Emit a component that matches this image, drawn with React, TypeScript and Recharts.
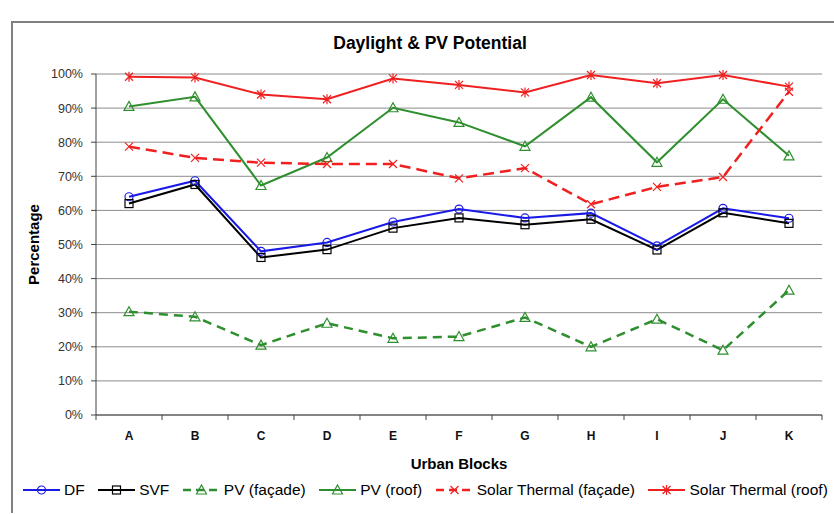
import { CartesianGrid, Line, LineChart, XAxis, YAxis } from "recharts";

const BLOCKS = ["A", "B", "C", "D", "E", "F", "G", "H", "I", "J", "K"];
const DF = [64, 68.7, 48, 50.6, 56.6, 60.4, 57.8, 59.2, 49.6, 60.6, 57.7];
const SVF = [62, 67.6, 46.2, 48.5, 54.8, 57.8, 55.8, 57.4, 48.4, 59.3, 56.2];
const PV_FACADE = [30.3, 28.8, 20.5, 26.9, 22.5, 23, 28.6, 20, 28.1, 19, 36.6];
const PV_ROOF = [90.5, 93.3, 67.3, 75.5, 90.1, 85.8, 78.8, 93.2, 74.1, 92.6, 76];
const ST_FACADE = [78.7, 75.4, 74, 73.6, 73.6, 69.4, 72.4, 61.8, 66.9, 69.8, 94.8];
const ST_ROOF = [99.2, 99, 94, 92.6, 98.7, 96.8, 94.6, 99.7, 97.3, 99.7, 96.3];
const Y_TICKS = [0, 10, 20, 30, 40, 50, 60, 70, 80, 90, 100];

const BLUE = "#1a1ae6";
const GREEN = "#2f8f2f";
const RED = "#f02020";

type Shape = "circle" | "square" | "triangle" | "x" | "star";

const SERIES: { key: string; name: string; color: string; dash?: string; width: number; shape: Shape; values: number[] }[] = [
  { key: "df", name: "DF", color: BLUE, width: 2, shape: "circle", values: DF },
  { key: "svf", name: "SVF", color: "#000", width: 2, shape: "square", values: SVF },
  { key: "pvf", name: "PV (façade)", color: GREEN, dash: "9 6", width: 2.5, shape: "triangle", values: PV_FACADE },
  { key: "pvr", name: "PV (roof)", color: GREEN, width: 2, shape: "triangle", values: PV_ROOF },
  { key: "stf", name: "Solar Thermal (façade)", color: RED, dash: "11 6", width: 2.5, shape: "x", values: ST_FACADE },
  { key: "str", name: "Solar Thermal (roof)", color: RED, width: 2, shape: "star", values: ST_ROOF },
];

const data = BLOCKS.map((b, i) => {
  const row: Record<string, string | number> = { block: b };
  SERIES.forEach((s) => (row[s.key] = s.values[i]));
  return row;
});

const FONT = '"Liberation Sans", Arial, sans-serif';
const CHART_W = 821;
const CHART_H = 455;
const PLOT_W = 726;
const BAND = PLOT_W / BLOCKS.length;

function Marker({ shape, color, cx, cy }: { shape: Shape; color: string; cx: number; cy: number }) {
  const s = { stroke: color, strokeWidth: 1.2, fill: "none" };
  switch (shape) {
    case "circle":
      return <circle cx={cx} cy={cy} r={4} {...s} />;
    case "square":
      return <rect x={cx - 4} y={cy - 4} width={8} height={8} {...s} />;
    case "triangle":
      return <path d={`M${cx},${cy - 5} L${cx + 5},${cy + 4} L${cx - 5},${cy + 4} Z`} {...s} />;
    case "x":
      return <path d={`M${cx - 4},${cy - 4} L${cx + 4},${cy + 4} M${cx - 4},${cy + 4} L${cx + 4},${cy - 4}`} {...s} />;
    default:
      return (
        <path
          d={`M${cx - 4},${cy - 4} L${cx + 4},${cy + 4} M${cx - 4},${cy + 4} L${cx + 4},${cy - 4} M${cx},${cy - 5} L${cx},${cy + 5}`}
          {...s}
        />
      );
  }
}

function XTick(props: any) {
  const { x, y, payload, index } = props;
  const left = x - BAND / 2;
  return (
    <g>
      <line x1={left} x2={left} y1={y - 5} y2={y} stroke="#444" />
      {index === BLOCKS.length - 1 && <line x1={x + BAND / 2} x2={x + BAND / 2} y1={y - 5} y2={y} stroke="#444" />}
      <text x={x} y={y + 20} textAnchor="middle" fontSize={12} fontWeight="bold" fill="#111" fontFamily={FONT}>
        {payload.value}
      </text>
    </g>
  );
}

function YLabel(props: any) {
  const vb = props.viewBox;
  const cy = vb.y + vb.height / 2;
  return (
    <text
      x={20}
      y={cy}
      transform={`rotate(-90 20 ${cy})`}
      textAnchor="middle"
      dominantBaseline="central"
      fontSize={15}
      fontWeight="bold"
      fill="#000"
      fontFamily={FONT}
    >
      Percentage
    </text>
  );
}

function LegendSwatch({ s }: { s: (typeof SERIES)[number] }) {
  return (
    <svg width={37} height={14} style={{ display: "block" }}>
      <line x1={0} x2={37} y1={7} y2={7} stroke={s.color} strokeWidth={s.width} strokeDasharray={s.dash ? "8 5" : undefined} />
      <Marker shape={s.shape} color={s.color} cx={18.5} cy={7} />
    </svg>
  );
}

export default function App() {
  return (
    <div
      style={{
        position: "absolute",
        left: 11,
        top: 21,
        width: CHART_W,
        height: 490,
        borderLeft: "2px solid #808080",
        borderTop: "2px solid #808080",
        background: "#fff",
        fontFamily: FONT,
        overflow: "hidden",
      }}
    >
      <div
        style={{
          position: "absolute",
          top: 10,
          left: 0,
          width: 834,
          textAlign: "center",
          fontSize: 17.5,
          lineHeight: "20px",
          fontWeight: "bold",
          color: "#000",
        }}
      >
        Daylight &amp; PV Potential
      </div>
      <LineChart width={CHART_W} height={CHART_H} data={data} margin={{ top: 51, right: 12, bottom: 3, left: 0 }}>
        <CartesianGrid vertical={false} stroke="#8c8c8c" horizontalValues={Y_TICKS} />
        <XAxis
          dataKey="block"
          padding={{ left: BAND / 2, right: BAND / 2 }}
          height={60}
          tickLine={false}
          tickSize={5}
          tickMargin={0}
          axisLine={{ stroke: "#444" }}
          tick={<XTick />}
          interval={0}
          label={{ value: "Urban Blocks", position: "insideBottom", offset: 6, fontSize: 15, fontWeight: "bold", fill: "#000", fontFamily: FONT }}
        />
        <YAxis
          domain={[0, 100]}
          ticks={Y_TICKS}
          width={83}
          tickFormatter={(v) => `${v}%`}
          tickSize={5}
          tickMargin={8}
          tickLine={{ stroke: "#444" }}
          axisLine={{ stroke: "#444" }}
          tick={{ fontSize: 12.5, fill: "#333", fontFamily: FONT }}
          label={<YLabel />}
        />
        <YAxis yAxisId="frame" orientation="right" width={0} tick={false} tickLine={false} axisLine={{ stroke: "#8c8c8c" }} />
        {SERIES.map((s) => (
          <Line
            key={s.key}
            dataKey={s.key}
            name={s.name}
            stroke={s.color}
            strokeWidth={s.width}
            strokeDasharray={s.dash}
            isAnimationActive={false}
            dot={(p: any) => <Marker key={`${s.key}-${p.index}`} shape={s.shape} color={s.color} cx={p.cx} cy={p.cy} />}
            activeDot={false}
          />
        ))}
      </LineChart>
      <div
        style={{
          position: "absolute",
          top: 458,
          left: 10,
          height: 18,
          display: "flex",
          alignItems: "center",
          whiteSpace: "nowrap",
          fontSize: 15.5,
          color: "#000",
        }}
      >
        {SERIES.map((s) => (
          <span key={s.key} style={{ display: "inline-flex", alignItems: "center", gap: 4, marginRight: 13.5 }}>
            <LegendSwatch s={s} />
            <span>{s.name}</span>
          </span>
        ))}
      </div>
    </div>
  );
}
